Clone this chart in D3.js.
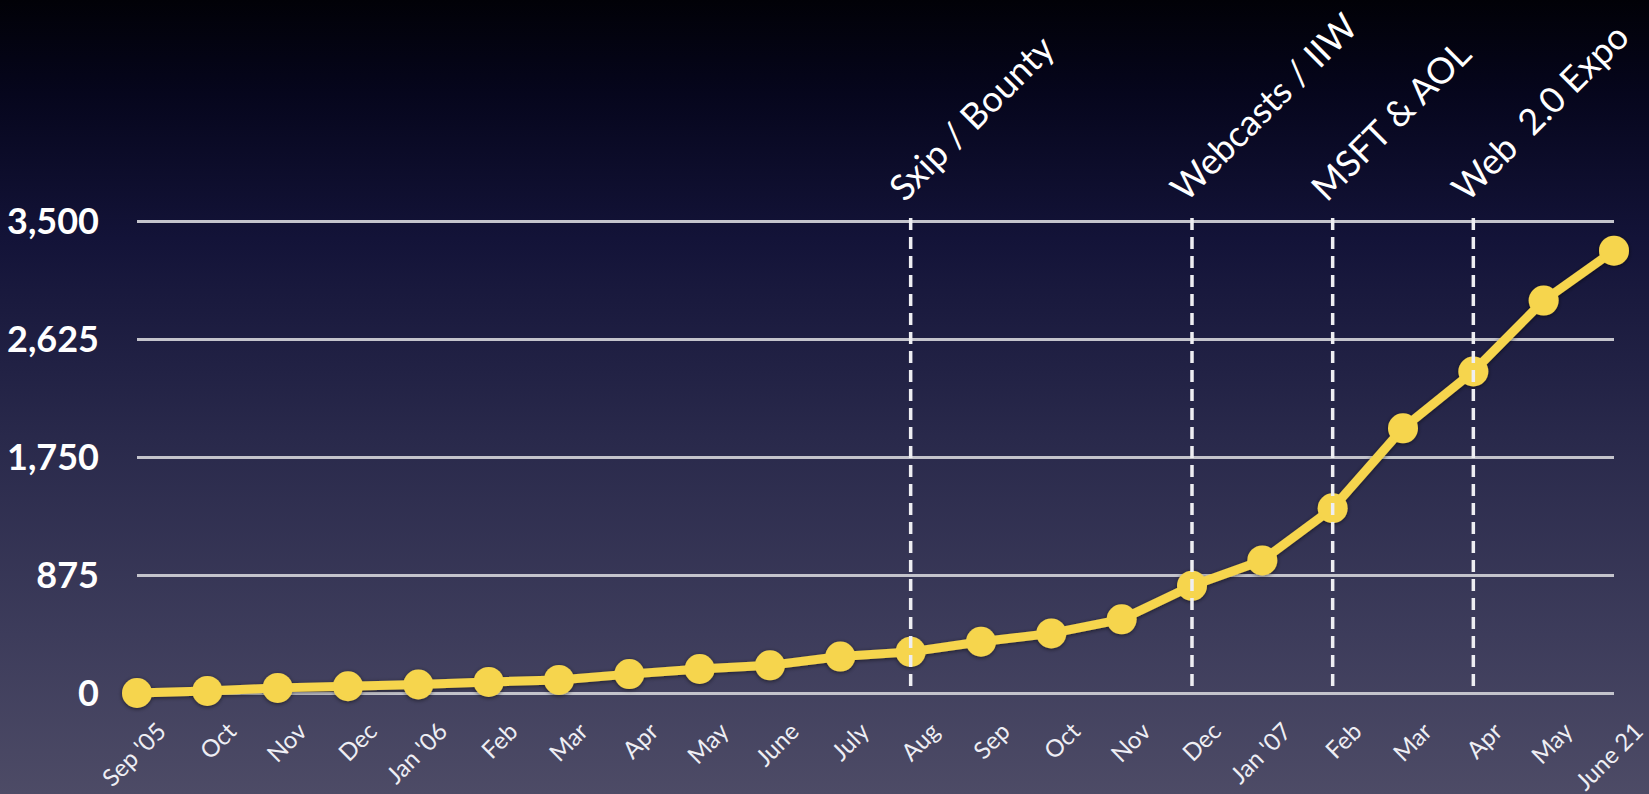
<!DOCTYPE html>
<html>
<head>
<meta charset="utf-8">
<script src="https://cdn.jsdelivr.net/npm/d3@7"></script>
<style>
  html, body { margin: 0; padding: 0; background: #000; }
  svg { display: block; }
</style>
</head>
<body>
<div id="dataviz"></div>
<script>
// data
var months = ["Sep '05", "Oct", "Nov", "Dec", "Jan '06", "Feb", "Mar", "Apr", "May", "June",
              "July", "Aug", "Sep", "Oct", "Nov", "Dec", "Jan '07", "Feb", "Mar", "Apr", "May", "June 21"];
var users = [0, 15, 38, 50, 63, 82, 97, 140, 178, 205,
             270, 305, 380, 442, 546, 795, 983, 1370, 1963, 2384, 2910, 3280];
var yTicks = [0, 875, 1750, 2625, 3500];
// events: index into months, label
var eventIdx = [11, 15, 17, 19];
var eventLabels = ["Sxip / Bounty", "Webcasts / IIW", "MSFT & AOL", "Web  2.0 Expo"];

var FONT = "Lato, 'Open Sans', sans-serif";
var widthFull = 1649;
var heightFull = 794;
var margin = { top: 221, right: 35, bottom: 101, left: 137 };
var width = widthFull - margin.left - margin.right;
var height = heightFull - margin.top - margin.bottom;

var svgRoot = d3.select("#dataviz").append("svg")
    .attr("width", widthFull)
    .attr("height", heightFull)
    .attr("font-family", FONT);

var defs = svgRoot.append("defs");
var grad = defs.append("linearGradient")
    .attr("id", "bg").attr("x1", 0).attr("y1", 0).attr("x2", 0).attr("y2", 1);
[[0, "#010107"], [0.12, "#06061d"], [0.3, "#131338"], [0.55, "#29294b"], [0.8, "#3d3c5b"], [1, "#4d4b66"]]
    .forEach(function(s) { grad.append("stop").attr("offset", s[0]).attr("stop-color", s[1]); });

var shadow = defs.append("filter").attr("id", "shadow")
    .attr("x", "-10%").attr("y", "-10%").attr("width", "120%").attr("height", "120%");
shadow.append("feDropShadow").attr("dx", 0).attr("dy", 1).attr("stdDeviation", 2)
    .attr("flood-color", "#000").attr("flood-opacity", 0.55);

svgRoot.append("rect").attr("width", widthFull).attr("height", heightFull).attr("fill", "url(#bg)");

var svg = svgRoot.append("g")
    .attr("transform", "translate(" + margin.left + "," + margin.top + ")");

var x = d3.scaleLinear().domain([0, months.length - 1]).range([0, width]);
var y = d3.scaleLinear().domain([0, 3500]).range([height, 0]);

// y grid + labels
var yAxis = svg.append("g")
    .attr("class", "y-axis")
    .call(d3.axisLeft(y).tickValues(yTicks).tickSize(-width).tickPadding(38).tickFormat(d3.format(",")))
    .attr("font-family", FONT);
yAxis.select(".domain").remove();
yAxis.selectAll("line").attr("stroke", "#c4c4cc").attr("stroke-width", 3);
yAxis.selectAll("text")
    .attr("fill", "#fff")
    .attr("font-size", 36)
    .attr("font-weight", "bold")
    .attr("dy", "0.36em");

// x labels
var xAxis = svg.append("g")
    .attr("class", "x-axis")
    .attr("transform", "translate(0," + height + ")")
    .call(d3.axisBottom(x).tickValues(d3.range(months.length)).tickSize(0).tickFormat(function(i) { return months[i]; }))
    .attr("font-family", FONT);
xAxis.select(".domain").remove();
xAxis.selectAll("text")
    .attr("fill", "#eeeef4")
    .attr("font-size", 24)
    .attr("text-anchor", "end")
    .attr("x", 0).attr("y", 0).attr("dy", 0)
    .attr("transform", "translate(30,40) rotate(-45)");

// the series
var line = d3.line()
    .x(function(d, i) { return x(i); })
    .y(function(d) { return y(d); });

var series = svg.append("g").attr("filter", "url(#shadow)");
series.append("path")
    .datum(users)
    .attr("fill", "none")
    .attr("stroke", "#f6d54d")
    .attr("stroke-width", 9)
    .attr("stroke-linejoin", "round")
    .attr("d", line);
series.selectAll("circle")
    .data(users).enter().append("circle")
    .attr("cx", function(d, i) { return x(i); })
    .attr("cy", function(d) { return y(d); })
    .attr("r", 15)
    .attr("fill", "#f6d54d");

// event markers
svg.selectAll(".event")
    .data(eventIdx).enter().append("line")
    .attr("class", "event")
    .attr("x1", function(d) { return x(d); })
    .attr("x2", function(d) { return x(d); })
    .attr("y1", y(3500) - 3)
    .attr("y2", y(0))
    .attr("stroke", "#eeeef2")
    .attr("stroke-width", 3.5)
    .style("stroke-dasharray", "12, 7");

svg.selectAll(".event-label")
    .data(eventIdx).enter().append("text")
    .attr("class", "event-label")
    .attr("transform", function(d) { return "translate(" + (x(d) - 6) + "," + (-18) + ") rotate(-45)"; })
    .attr("fill", "#fff")
    .attr("font-size", 36)
    .style("white-space", "pre")
    .text(function(d, i) { return eventLabels[i]; });
</script>
</body>
</html>
